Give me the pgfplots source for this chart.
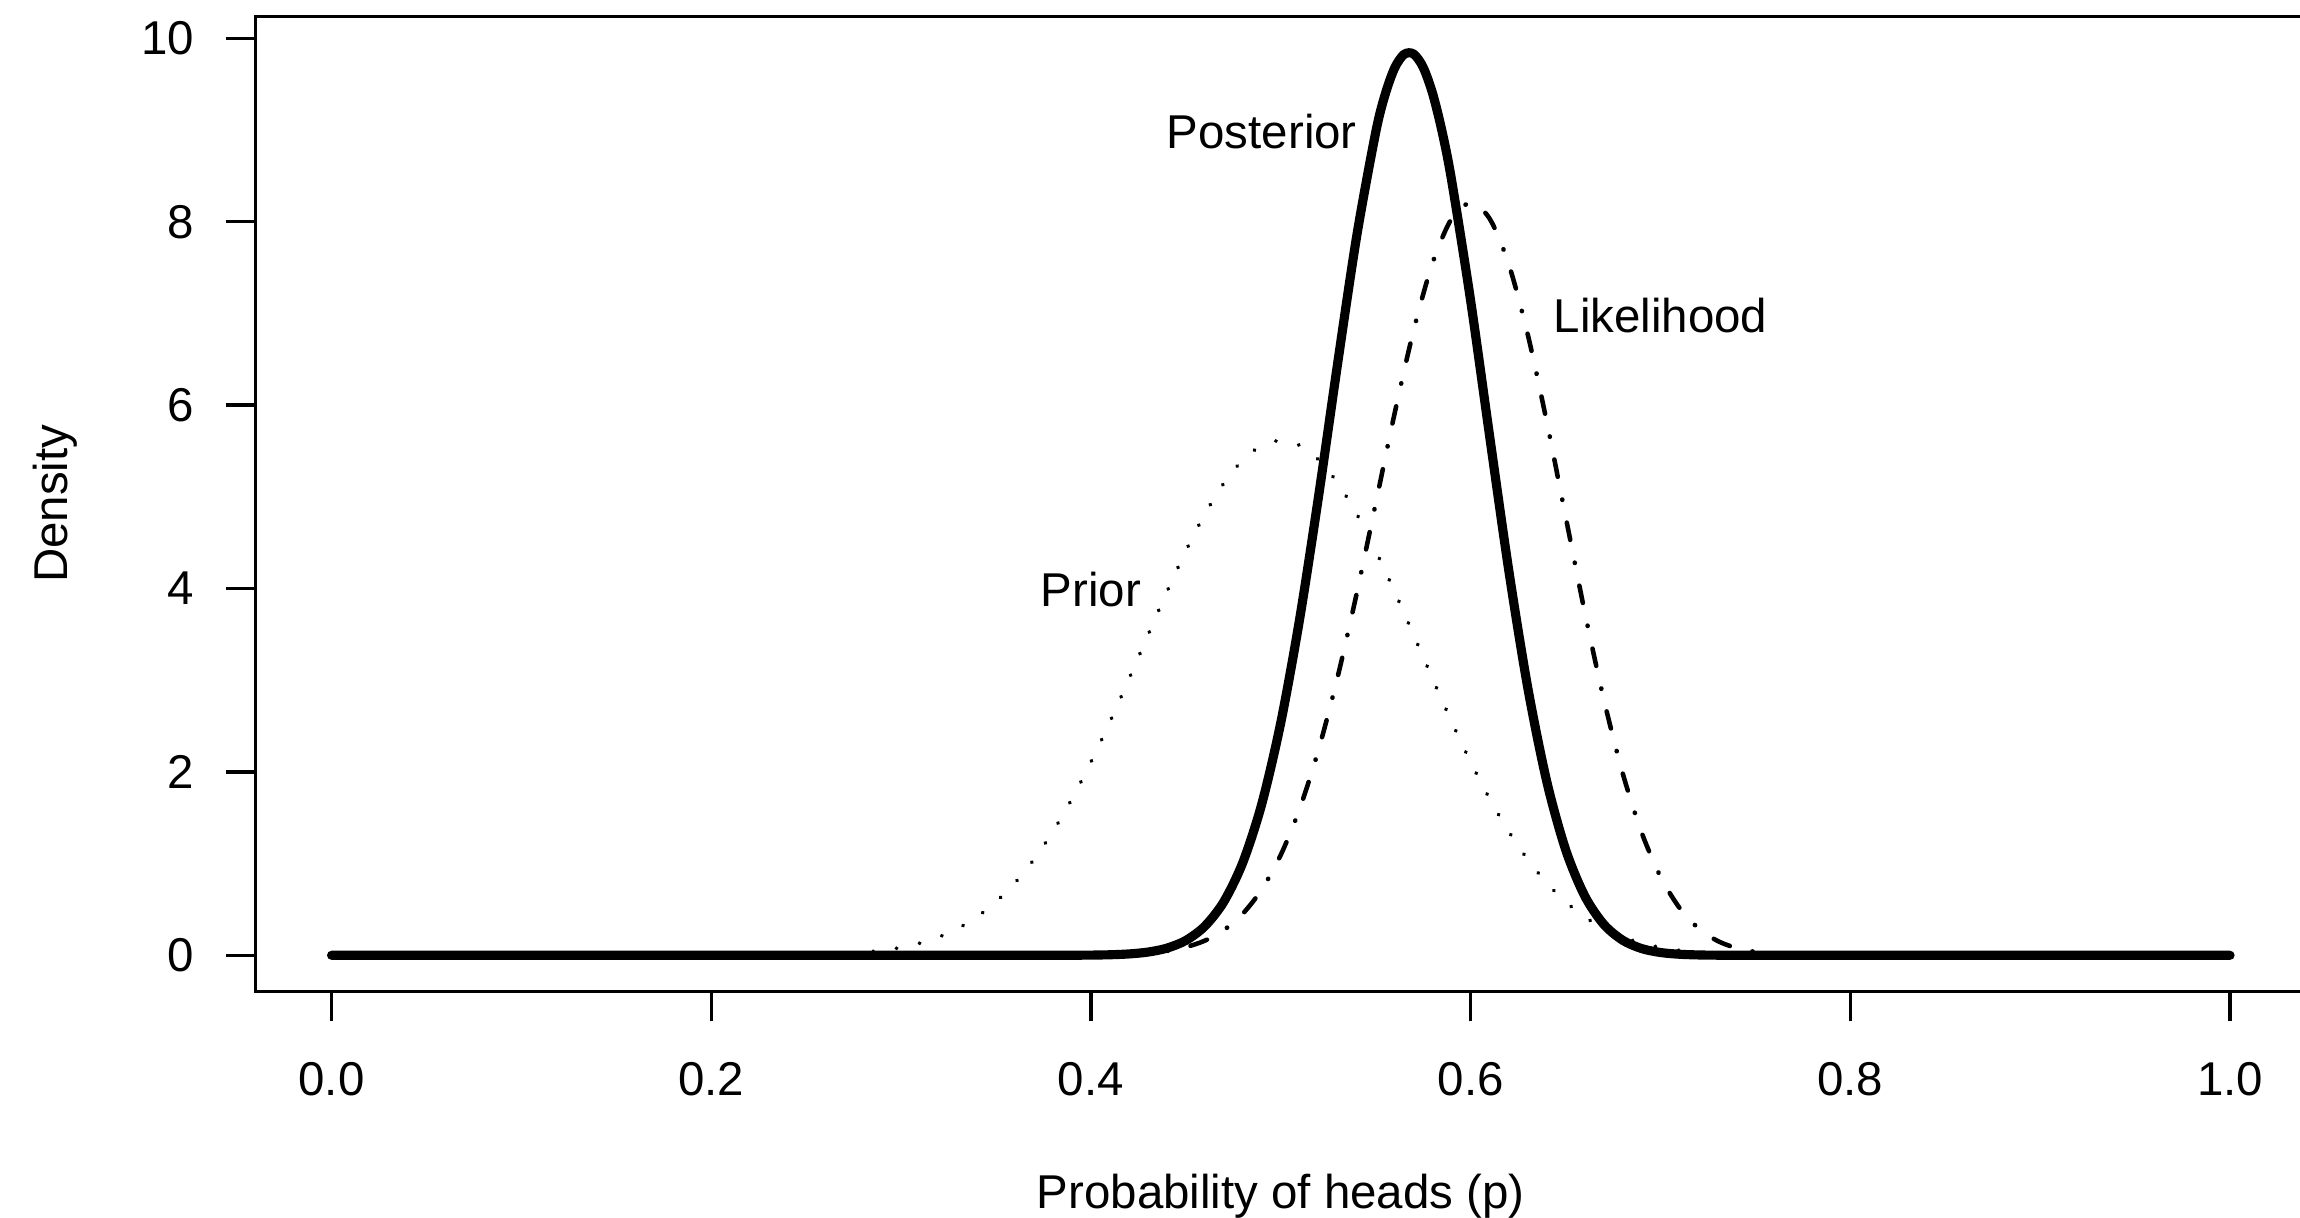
\documentclass[border=0pt]{standalone}
\usepackage{fontspec}
\setmainfont{Liberation Sans}
\usepackage{pgfplots}
\pgfplotsset{compat=1.18}
\begin{document}
\begin{tikzpicture}[font=\fontsize{13.5}{16}\selectfont]
\begin{axis}[
  at={(2.556cm,2.256cm)}, anchor=south west,
  scale only axis, width=20.504cm, height=9.751cm,
  xmin=-0.04, xmax=1.04, ymin=-0.3938, ymax=10.2399,
  xtick={0,0.2,0.4,0.6,0.8,1}, ytick={0,2,4,6,8,10},
  xticklabel style={yshift=-0.28cm, /pgf/number format/fixed, /pgf/number format/fixed zerofill, /pgf/number format/precision=1},
  yticklabel style={xshift=-0.18cm},
  /pgf/number format/assume math mode=true,
  tick align=outside, xtick pos=bottom, ytick pos=left,
  major tick length=0.3cm,
  line width=0.94pt,
  axis line style={line width=0.94pt},
  every tick/.style={black, line width=0.94pt},
  tick label style={font=\fontsize{13.5}{16}\selectfont},
  label style={font=\fontsize{13.5}{16}\selectfont},
  xlabel={Probability of heads (p)}, ylabel={Density},
  xlabel style={at={(axis description cs:0.5,-0.2100)}, anchor=center},
  ylabel style={at={(axis description cs:-0.0975,0.5)}, anchor=center},
]
% Posterior (solid, thick)
\addplot[black, line width=2.6pt, smooth, line cap=round, line join=round] coordinates {
(0.00,0) (0.10,0) (0.20,0) (0.30,0) (0.35,0) (0.38,0.0002) (0.39,0.0007)
(0.40,0.0021) (0.41,0.0058) (0.42,0.0148) (0.43,0.0350) (0.44,0.0778)
(0.45,0.1622) (0.46,0.3176) (0.47,0.5846) (0.48,1.0128) (0.49,1.6518)
(0.50,2.5385) (0.51,3.6765) (0.52,5.0205) (0.53,6.4631) (0.54,7.8448)
(0.55,8.9757) (0.555,9.3900) (0.56,9.6779) (0.565,9.8260) (0.57,9.8281)
(0.575,9.6830) (0.58,9.3952) (0.585,8.9782) (0.59,8.4477) (0.60,7.1373)
(0.61,5.6604) (0.62,4.2078) (0.63,2.9278) (0.64,1.9032) (0.65,1.1537)
(0.66,0.6507) (0.67,0.3405) (0.68,0.1650) (0.69,0.0737) (0.70,0.0303)
(0.71,0.0114) (0.72,0.0039) (0.73,0.0012) (0.75,0.0001) (0.80,0)
(0.90,0) (1.00,0)
};
% Likelihood (dot-dash)
\addplot[black, line width=1.3pt, smooth, line cap=round, line join=round,
  dash pattern=on 0.1pt off 6.6pt on 5pt off 6.6pt] coordinates {
(0.00,0) (0.20,0) (0.30,0) (0.35,0) (0.38,0.0004) (0.39,0.0010)
(0.40,0.0025) (0.41,0.0055) (0.42,0.0119) (0.43,0.0243) (0.44,0.0476)
(0.45,0.0891) (0.46,0.1599) (0.47,0.2751) (0.48,0.4541) (0.49,0.7196)
(0.50,1.0953) (0.51,1.6016) (0.52,2.2510) (0.53,3.0407) (0.54,3.9486)
(0.55,4.9290) (0.56,5.9142) (0.57,6.8192) (0.58,7.5535) (0.59,8.0348)
(0.60,8.2033) (0.61,8.0330) (0.62,7.5395) (0.63,6.7768) (0.64,5.8265)
(0.65,4.7866) (0.66,3.7523) (0.67,2.8024) (0.68,1.9909) (0.69,1.3425)
(0.70,0.8575) (0.71,0.5175) (0.72,0.2943) (0.73,0.1572) (0.74,0.0786)
(0.75,0.0366) (0.76,0.0158) (0.77,0.0063) (0.78,0.0023) (0.79,0.0008)
(0.80,0.0002) (0.90,0) (1.00,0)
};
% Prior (dotted)
\addplot[black, line width=1.1pt, smooth, line cap=round, line join=round,
  dash pattern=on 0.1pt off 6.6pt] coordinates {
(0.00,0) (0.10,0) (0.20,0.0001) (0.25,0.0056) (0.26,0.0105) (0.27,0.0187)
(0.28,0.0321) (0.29,0.0533) (0.30,0.0855) (0.31,0.1330) (0.32,0.2007)
(0.33,0.2943) (0.34,0.4200) (0.35,0.5838) (0.36,0.7912) (0.37,1.0465)
(0.38,1.3518) (0.39,1.7067) (0.40,2.1075) (0.41,2.5466) (0.42,3.0127)
(0.43,3.4909) (0.44,3.9635) (0.45,4.4106) (0.46,4.8121) (0.47,5.1484)
(0.48,5.4023) (0.49,5.5601) (0.50,5.6139) (0.51,5.5601) (0.52,5.4023)
(0.53,5.1484) (0.54,4.8121) (0.55,4.4106) (0.56,3.9635) (0.57,3.4909)
(0.58,3.0127) (0.59,2.5466) (0.60,2.1075) (0.61,1.7067) (0.62,1.3518)
(0.63,1.0465) (0.64,0.7912) (0.65,0.5838) (0.66,0.4200) (0.67,0.2943)
(0.68,0.2007) (0.69,0.1330) (0.70,0.0855) (0.71,0.0533) (0.72,0.0321)
(0.73,0.0187) (0.74,0.0105) (0.75,0.0056) (0.80,0.0001) (0.90,0) (1.00,0)
};
\node[font=\fontsize{13.5}{16}\selectfont] at (axis cs:0.49,8.98) {Posterior};
\node[font=\fontsize{13.5}{16}\selectfont] at (axis cs:0.70,6.98) {Likelihood};
\node[font=\fontsize{13.5}{16}\selectfont] at (axis cs:0.40,3.99) {Prior};
\end{axis}
\pgfresetboundingbox
\path[use as bounding box] (0,0) rectangle (23cm,12.17cm);
\end{tikzpicture}
\end{document}
